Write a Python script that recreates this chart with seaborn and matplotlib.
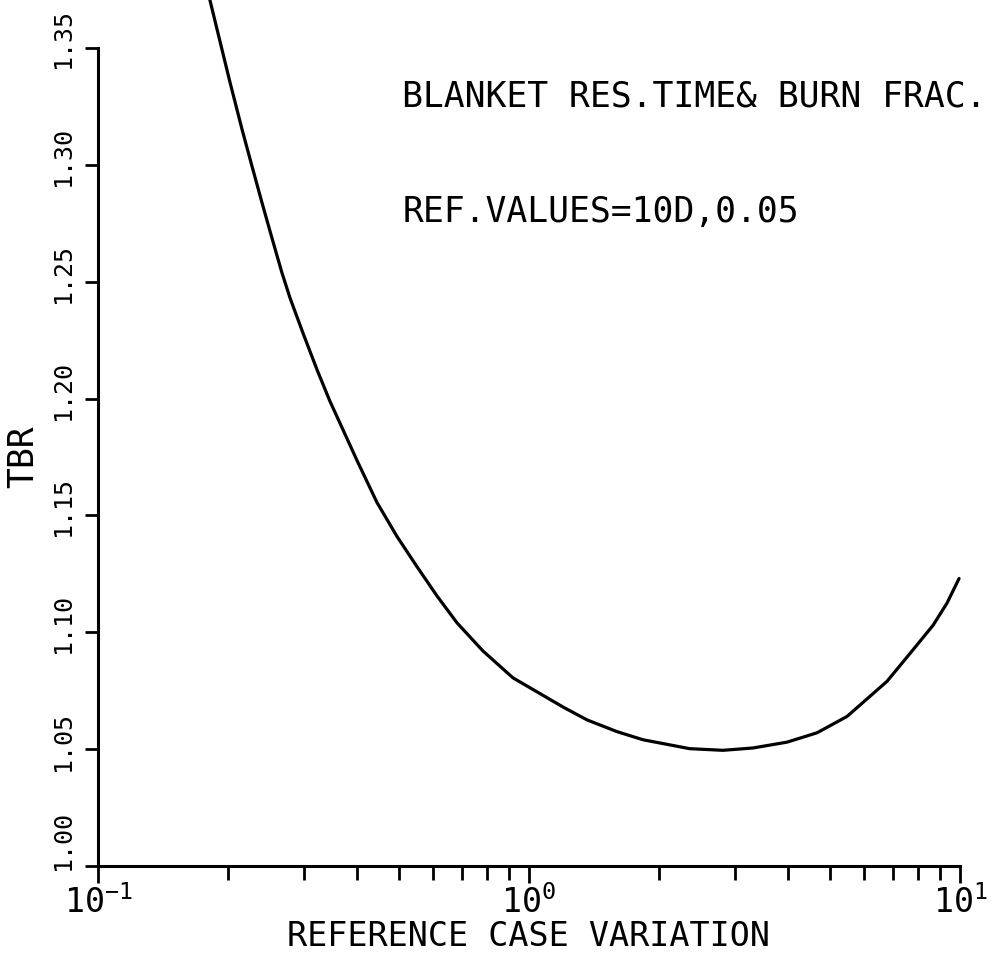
#!/usr/bin/env python3
"""
TBR vs reference case variation (blanket residence time & burn fraction).
Re-drawn from a scanned plotter figure.
"""

import matplotlib
matplotlib.use("Agg")
import matplotlib.pyplot as plt
import matplotlib.transforms as mtransforms
import seaborn as sns

# Curve
variation = [0.181, 0.202, 0.216, 0.228, 0.240, 0.253, 0.267, 0.279, 0.299,
             0.322, 0.345, 0.378, 0.399, 0.444, 0.494, 0.550, 0.612, 0.681,
             0.782, 0.918, 1.044, 1.20, 1.364, 1.60, 1.84, 2.36, 2.82, 3.31,
             3.97, 4.66, 5.47, 6.77, 7.78, 8.66, 9.33, 9.95]
tbr = [1.372, 1.336, 1.315, 1.299, 1.284, 1.269, 1.254, 1.243, 1.228,
       1.2125, 1.199, 1.183, 1.1735, 1.1555, 1.141, 1.128, 1.1155, 1.104,
       1.092, 1.0805, 1.0745, 1.068, 1.0625, 1.0575, 1.054, 1.0502, 1.0495,
       1.0505, 1.053, 1.057, 1.064, 1.079, 1.0925, 1.103, 1.1125, 1.123]

y_ticks = [1.00, 1.05, 1.10, 1.15, 1.20, 1.25, 1.30, 1.35]
y_tick_labels = ["1.00", "1.05", "1.10", "1.15", "1.20", "1.25", "1.30", "1.35"]
x_ticks = [0.1, 1.0, 10.0]
x_tick_labels = [r"$\mathregular{10^{-1}}$", r"$\mathregular{10^{0}}$",
                 r"$\mathregular{10^{1}}$"]

title_lines = ["BLANKET RES.TIME& BURN FRAC.", "REF.VALUES=10D,0.05"]

sns.set_style("ticks")
plt.rcParams["font.family"] = ["DejaVu Sans Mono", "DejaVu Sans"]
plt.rcParams["mathtext.fontset"] = "custom"
plt.rcParams["mathtext.rm"] = "DejaVu Sans Mono"

W, H = 995, 958
fig = plt.figure(figsize=(W / 100, H / 100), dpi=100)
ax = fig.add_axes([98 / W, (H - 866) / H, (960 - 98) / W, (866 - 48) / H])

sns.lineplot(x=variation, y=tbr, ax=ax, color="black", linewidth=2.3,
             estimator=None, sort=True)
for ln in ax.lines:
    ln.set_clip_on(False)
    ln.set_solid_joinstyle("round")

ax.set_xscale("log")
ax.set_xlim(0.1, 10)
ax.set_ylim(1.00, 1.35)

ax.set_xticks(x_ticks, labels=x_tick_labels, fontsize=24)
ax.set_yticks(y_ticks, labels=y_tick_labels, fontsize=18, rotation=90,
              va="center")
ax.yaxis.set_minor_locator(matplotlib.ticker.NullLocator())

ax.tick_params(axis="x", which="major", direction="out", length=12,
               width=2.0, pad=2, color="black", labelcolor="black")
ax.tick_params(axis="x", which="minor", direction="out", length=10,
               width=2.0, color="black")
ax.tick_params(axis="y", which="major", direction="out", length=9.5,
               width=2.0, pad=7, color="black", labelcolor="black")

# the plotter put the y labels a little above their ticks
shifts = [26, 8, 9, 9, 9, 9, 9, 10]
for lab, dy in zip(ax.get_yticklabels(), shifts):
    off = mtransforms.ScaledTranslation(0, dy / 100, fig.dpi_scale_trans)
    lab.set_transform(lab.get_transform() + off)

sns.despine(ax=ax)
for side in ["left", "bottom"]:
    ax.spines[side].set_linewidth(2.2)
    ax.spines[side].set_color("black")

ax.set_xlabel("REFERENCE CASE VARIATION", fontsize=24, labelpad=0,
              color="black")
ax.set_ylabel("TBR", fontsize=25, labelpad=8, color="black")

ax.text(0.353, 0.929, title_lines[0], transform=ax.transAxes, fontsize=25,
        va="baseline", ha="left", color="black")
ax.text(0.353, 0.787, title_lines[1], transform=ax.transAxes, fontsize=25,
        va="baseline", ha="left", color="black")

fig.savefig("out.png", dpi=100)
